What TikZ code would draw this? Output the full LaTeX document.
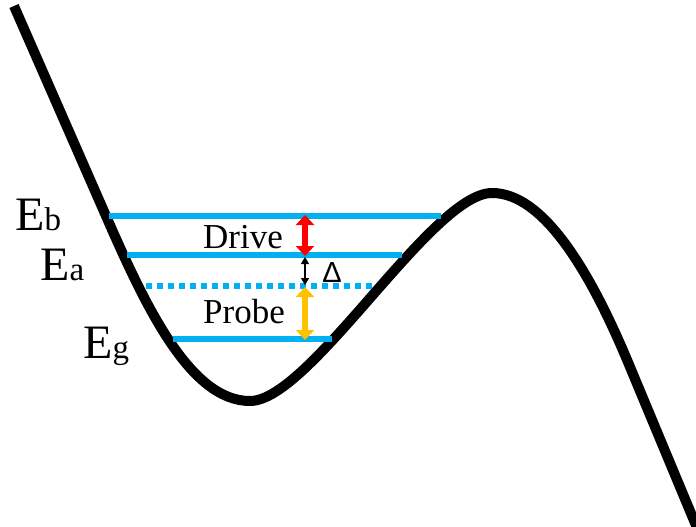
\documentclass[tikz,border=0pt]{standalone}
\usepackage{fontspec}
\setmainfont{Liberation Serif}
\newfontfamily\deltafont{Liberation Sans}
\usetikzlibrary{arrows.meta}
\definecolor{levelblue}{RGB}{0,176,240}
\definecolor{drivered}{RGB}{255,0,0}
\definecolor{probeorange}{RGB}{255,192,0}
\newcommand{\lvlsub}[1]{{\fontsize{33}{33}\selectfont #1}}
\begin{document}
\begin{tikzpicture}[x=1pt,y=-1pt,
  level/.style={levelblue,line width=5.5pt},
  virtual/.style={levelblue,line width=5.5pt,dash pattern=on 6pt off 5pt},
  elabel/.style={font=\fontsize{48}{48}\selectfont,inner sep=0pt,anchor=base west},
  tlabel/.style={font=\fontsize{35}{35}\selectfont,inner sep=0pt,anchor=base west},
  bigarrow/.style={line width=6pt,{Triangle[width=18pt,length=10pt]}-{Triangle[width=18pt,length=10pt]}}]
\useasboundingbox (0,0) rectangle (696,527);
\clip (0,0) rectangle (696,527);
\draw[line width=10pt] (14,6) -- (106,216)
  .. controls (145.4,306) and (190,401) .. (250,401)
  .. controls (310,401) and (432,193) .. (492,193)
  .. controls (542,193) and (588.7,267) .. (630,367)
  -- (700,535);
\coordinate (bL) at (109,216);
\coordinate (bR) at (441,216);
\coordinate (aL) at (127,255);
\coordinate (aR) at (402,255);
\coordinate (vL) at (146,286);
\coordinate (vR) at (372,286);
\coordinate (gL) at (173,339);
\coordinate (gR) at (332,339);
\draw[level] (bL) -- (bR);
\draw[level] (aL) -- (aR);
\draw[virtual] (vL) -- (vR);
\draw[level] (gL) -- (gR);
\coordinate (bA) at (305,215);
\coordinate (aA) at (305,256);
\coordinate (aD) at (305,257);
\coordinate (vD) at (305,285);
\coordinate (vP) at (305,287);
\coordinate (gP) at (305,340);
\draw[bigarrow,drivered] (bA) -- (aA);
\draw[bigarrow,probeorange] (vP) -- (gP);
\draw[line width=1.3pt,{Triangle[width=8pt,length=7pt]}-{Triangle[width=8pt,length=7pt]}] (aD) -- (vD);
\node[elabel] (Eb) at (15,230) {E\lvlsub{b}};
\node[elabel] (Ea) at (40,280) {E\lvlsub{a}};
\node[elabel] (Eg) at (83,358) {E\lvlsub{g}};
\node[tlabel] (drive) at (203,248) {Drive};
\node[tlabel] (probe) at (203,323) {Probe};
\node[font=\deltafont\fontsize{29}{29}\selectfont,inner sep=0pt,anchor=base] (delta) at (332,282) {Δ};
\end{tikzpicture}
\end{document}
